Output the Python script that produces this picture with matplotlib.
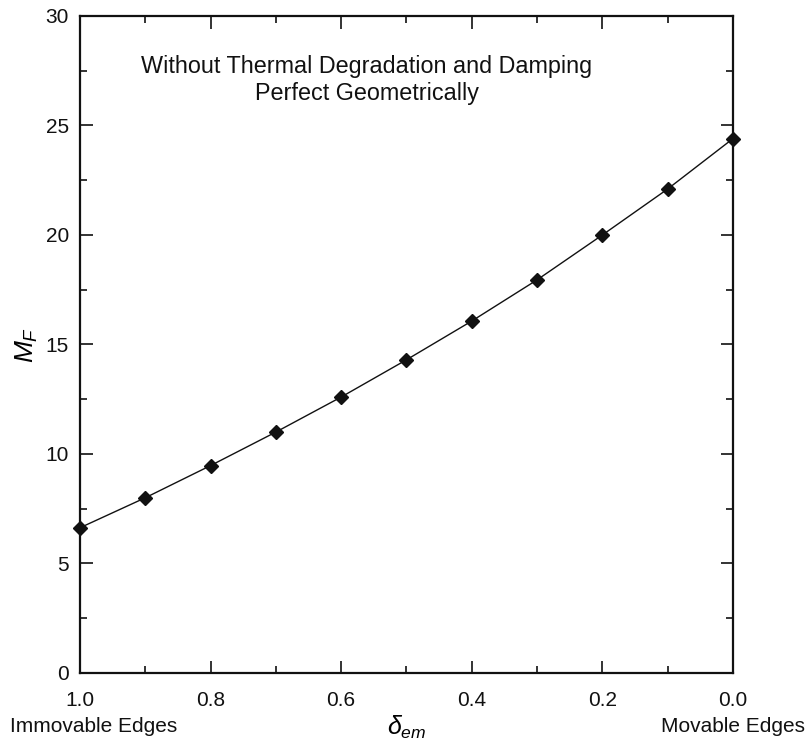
import numpy as np
import matplotlib.pyplot as plt

plt.rcParams['font.family'] = ['Liberation Sans', 'DejaVu Sans']
plt.rcParams['mathtext.fontset'] = 'custom'
plt.rcParams['mathtext.it'] = 'Liberation Sans:italic'
plt.rcParams['mathtext.rm'] = 'Liberation Sans'

# values
delta_em = [1.0, 0.9, 0.8, 0.7, 0.6, 0.5, 0.4, 0.3, 0.2, 0.1, 0.0]
M_F = [6.63, 8.0, 9.47, 11.0, 12.6, 14.3, 16.07, 17.95, 20.0, 22.1, 24.4]

fig = plt.figure(figsize=(8.07, 7.46), dpi=100)
ax = fig.add_axes([0.0991, 0.0979, 0.8092, 0.8807])

ax.plot(delta_em, M_F, color='#111111', lw=1.0, marker='D', ms=7,
        mfc='#111111', mec='#111111', clip_on=False, zorder=3)

ax.set_xlim(1.0, 0.0)
ax.set_ylim(0, 30)
ax.set_xticks([1.0, 0.8, 0.6, 0.4, 0.2, 0.0])
ax.set_xticks(np.arange(0.1, 1.0, 0.2), minor=True)
ax.set_xticklabels(['1.0', '0.8', '0.6', '0.4', '0.2', '0.0'])
ax.set_yticks(range(0, 31, 5))
ax.set_yticks(np.arange(2.5, 30, 5), minor=True)

ax.tick_params(which='both', direction='in', top=True, right=True,
               labelsize=15, colors='#111111', width=1.2)
ax.tick_params(which='major', length=9)
ax.tick_params(axis='x', which='major', pad=13)
ax.tick_params(axis='y', which='major', pad=8)
ax.tick_params(which='minor', length=5)
for s in ax.spines.values():
    s.set_linewidth(1.6)
    s.set_color('#111111')

ax.set_xlabel(r'$\delta_{em}$', fontsize=18, labelpad=3)
ax.set_ylabel(r'$M_F$', fontsize=19, labelpad=4)

ax.text(0.561, 27.4, 'Without Thermal Degradation and Damping',
        ha='center', va='baseline', fontsize=16.8, color='#111111')
ax.text(0.561, 26.17, 'Perfect Geometrically',
        ha='center', va='baseline', fontsize=16.8, color='#111111')

fig.text(10 / 807, 1 - 726 / 746, 'Immovable Edges', ha='left', va='center',
         fontsize=15, color='#111111')
fig.text(805 / 807, 1 - 726 / 746, 'Movable Edges', ha='right', va='center',
         fontsize=15, color='#111111')

fig.savefig('out.png', dpi=100)
